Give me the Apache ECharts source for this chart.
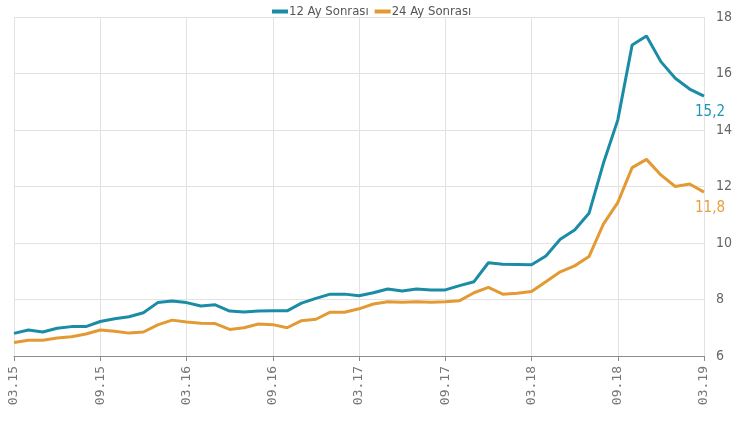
<!DOCTYPE html>
<html>
<head>
<meta charset="utf-8">
<script src="https://cdn.jsdelivr.net/npm/echarts@6/dist/echarts.min.js"></script>
<style>
  html, body { margin: 0; padding: 0; background: #fff; }
  #chart { width: 739px; height: 421px; }
</style>
</head>
<body>
<div id="chart"></div>
<script>
// aylar (03.15 - 03.19)
const months = [
  '03.15','04.15','05.15','06.15','07.15','08.15','09.15','10.15','11.15','12.15','01.16','02.16',
  '03.16','04.16','05.16','06.16','07.16','08.16','09.16','10.16','11.16','12.16','01.17','02.17',
  '03.17','04.17','05.17','06.17','07.17','08.17','09.17','10.17','11.17','12.17','01.18','02.18',
  '03.18','04.18','05.18','06.18','07.18','08.18','09.18','10.18','11.18','12.18','01.19','02.19',
  '03.19'
];
const ay12 = [
  6.80, 6.92, 6.85, 6.98, 7.04, 7.04, 7.22, 7.32, 7.39, 7.53, 7.89, 7.95,
  7.89, 7.77, 7.81, 7.59, 7.56, 7.59, 7.60, 7.60, 7.87, 8.04, 8.19, 8.19,
  8.13, 8.24, 8.37, 8.30, 8.37, 8.34, 8.34, 8.49, 8.63, 9.30, 9.25, 9.24,
  9.23, 9.54, 10.13, 10.46, 11.05, 12.82, 14.35, 17.01, 17.33, 16.42, 15.83, 15.45,
  15.2
];
const ay24 = [
  6.48, 6.56, 6.56, 6.64, 6.68, 6.78, 6.92, 6.88, 6.81, 6.85, 7.10, 7.27,
  7.20, 7.16, 7.15, 6.94, 7.00, 7.13, 7.11, 7.00, 7.25, 7.30, 7.55, 7.55,
  7.67, 7.84, 7.92, 7.90, 7.92, 7.90, 7.92, 7.96, 8.24, 8.43, 8.19, 8.22,
  8.28, 8.63, 8.98, 9.19, 9.52, 10.67, 11.43, 12.67, 12.96, 12.41, 12.00, 12.09,
  11.8
];
const seriesNames = ['12 Ay Sonrası', '24 Ay Sonrası'];
const colors = ['#1a8ca6', '#e39a35'];

const narrow = '"Liberation Sans Narrow", "DejaVu Sans Condensed", sans-serif';

const chart = echarts.init(document.getElementById('chart'), null, { renderer: 'canvas' });

// son değer etiketi (15,2 / 11,8)
function endLabel(color) {
  return {
    show: true,
    offset: [-17, 16],
    color: color,
    fontSize: 15,
    fontFamily: narrow,
    formatter: (p) => p.value.toFixed(1).replace('.', ',')
  };
}

const option = {
  animation: false,
  color: colors,
  legend: {
    top: 0,
    left: 267,
    itemWidth: 16,
    itemHeight: 4,
    itemGap: 6,
    icon: 'rect',
    textStyle: {
      color: '#555',
      fontSize: 13,
      fontFamily: narrow,
      padding: [0, 0, 0, -4]
    },
    data: seriesNames
  },
  grid: {
    left: 14,
    right: 35,
    top: 17,
    bottom: 65
  },
  xAxis: {
    type: 'category',
    data: months,
    boundaryGap: false,
    axisLine: { lineStyle: { color: '#8c8c8c', width: 1 } },
    axisTick: { interval: 5, length: 5, lineStyle: { color: '#8c8c8c' } },
    axisLabel: {
      interval: 5,
      rotate: 90,
      margin: 10,
      color: '#777',
      fontSize: 13,
      fontFamily: '"DejaVu Sans Mono", monospace'
    },
    splitLine: { show: true, interval: 5, lineStyle: { color: '#e2e2e2' } }
  },
  yAxis: {
    type: 'value',
    position: 'right',
    min: 6,
    max: 18,
    interval: 2,
    axisLine: { show: false },
    axisTick: { show: false },
    axisLabel: {
      margin: 12,
      color: '#666',
      fontSize: 14,
      fontFamily: narrow
    },
    splitLine: { lineStyle: { color: '#e2e2e2' } }
  },
  series: [
    {
      name: seriesNames[0],
      type: 'line',
      data: ay12,
      showSymbol: false,
      symbol: 'none',
      lineStyle: { width: 3, color: colors[0] },
      endLabel: endLabel('#1d97b3'),
      z: 3
    },
    {
      name: seriesNames[1],
      type: 'line',
      data: ay24,
      showSymbol: false,
      symbol: 'none',
      lineStyle: { width: 3, color: colors[1] },
      endLabel: endLabel('#e6a03c'),
      z: 2
    }
  ]
};

chart.setOption(option);
</script>
</body>
</html>
